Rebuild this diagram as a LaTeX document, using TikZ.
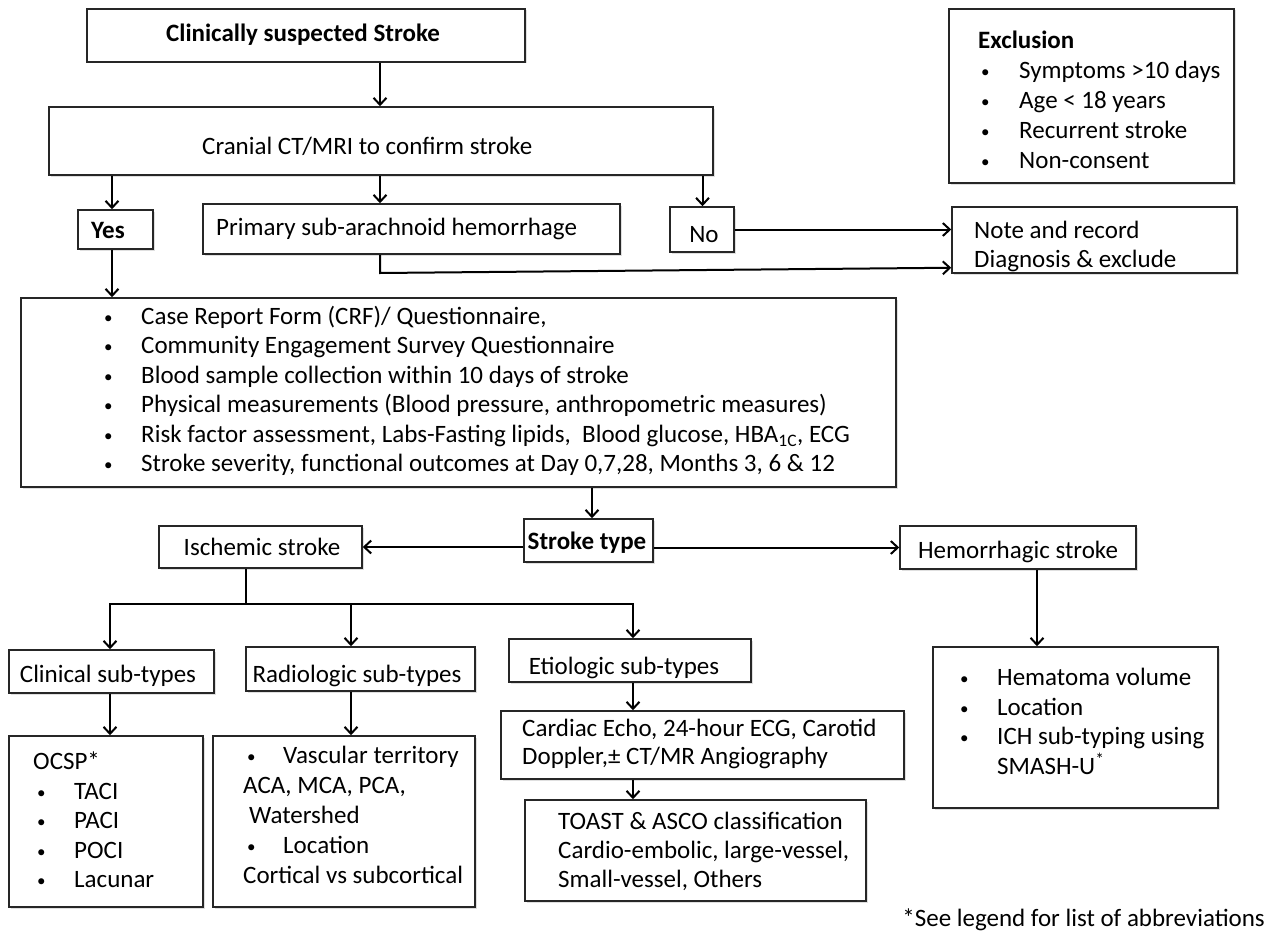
\documentclass[tikz,border=0pt]{standalone}
\usepackage{fontspec}
\setmainfont{Carlito}
\usetikzlibrary{arrows.meta,fit,shadows}
\newcommand\fs{\fontsize{25}{29.5}\selectfont}
\newcommand\bul[1][37pt]{\makebox[#1][l]{\raisebox{1pt}{\fontsize{17}{17}\selectfont\textbullet}}}
\begin{document}
\begin{tikzpicture}[x=1pt,y=-1pt,
  box/.style={draw=black!85, line width=1.5pt, fill=white, inner sep=0pt,
    drop shadow={shadow xshift=1.5pt,shadow yshift=-1.5pt,opacity=0.25}},
  txt/.style={inner sep=0pt, font=\fs, align=left},
  arr/.style={line width=2pt, -{Straight Barb[length=7pt,width=13pt]}},
  ln/.style={line width=2pt}]
\fill[white] (0,0) rectangle (1285,934);
\useasboundingbox (0,0) rectangle (1285,934);

% boxes
\node[box, fit={(87,9)(525,62)}] (clin) {};
\node[box, fit={(949,9)(1234,183)}] (excl) {};
\node[box, fit={(49,107)(713,175)}] (cran) {};
\node[box, fit={(78,210)(153,249)}] (yes) {};
\node[box, fit={(203,204)(620,254)}] (sah) {};
\node[box, fit={(670,207)(734,252)}] (no) {};
\node[box, fit={(952,207)(1237,273)}] (note) {};
\node[box, fit={(21,298)(896,487)}] (crf) {};
\node[box, fit={(524,519)(653,562)}] (st) {};
\node[box, fit={(159,526)(362,568)}] (isch) {};
\node[box, fit={(900,526)(1136,569)}] (hem) {};
\node[box, fit={(9,650)(214,693)}] (cs) {};
\node[box, fit={(246,647)(475,691)}] (rs) {};
\node[box, fit={(509,639)(751,682)}] (es) {};
\node[box, fit={(933,647)(1218,808)}] (hema) {};
\node[box, fit={(9,736)(203,907)}] (ocsp) {};
\node[box, fit={(213,736)(475,907)}] (rd) {};
\node[box, fit={(501,711)(904,779)}] (card) {};
\node[box, fit={(525,800)(866,901)}] (toast) {};

% texts
\node[txt, font=\fs\bfseries] (clint) at (303,35) {Clinically suspected Stroke};
\node[txt, anchor=north west, font=\fontsize{25}{30}\selectfont] (exclt) at (978,31)
  {\textbf{Exclusion}\\
   \hspace*{3pt}\bul[38pt]Symptoms >10 days\\
   \hspace*{3pt}\bul[38pt]Age < 18 years\\
   \hspace*{3pt}\bul[38pt]Recurrent stroke\\
   \hspace*{3pt}\bul[38pt]Non-consent};
\node[txt, anchor=west] (crant) at (202,146) {Cranial CT/MRI to confirm stroke};
\node[txt, anchor=west, font=\fs\bfseries] (yest) at (91,230) {Yes};
\node[txt, anchor=west] (saht) at (216,229) {Primary sub-arachnoid hemorrhage};
\node[txt] (not) at (704,235) {No};
\node[txt, anchor=north west, font=\fontsize{25}{29}\selectfont] (notet) at (974,221)
  {Note and record\\ Diagnosis \& exclude};
\node[txt, anchor=north west] (crft) at (104,306)
  {\bul Case Report Form (CRF)/ Questionnaire,\\
   \bul Community Engagement Survey Questionnaire\\
   \bul Blood sample collection within 10 days of stroke\\
   \bul Physical measurements (Blood pressure, anthropometric measures)\\
   \bul Risk factor assessment, Labs-Fasting lipids,\ \ Blood glucose, HBA\textsubscript{1C}, ECG\\
   \bul Stroke severity, functional outcomes at Day 0,7,28, Months 3, 6 \& 12};
\node[txt, font=\fs\bfseries] (stt) at (587,543) {Stroke type};
\node[txt] (ischt) at (262,547) {Ischemic stroke};
\node[txt] (hemt) at (1018,552) {Hemorrhagic stroke};
\node[txt] (cst) at (108,676) {Clinical sub-types};
\node[txt] (rst) at (357,676) {Radiologic sub-types};
\node[txt] (est) at (624,668) {Etiologic sub-types};
\node[txt, anchor=north west] (ocspt) at (33,752)
  {OCSP*\\
   \hspace*{4pt}\bul TACI\\
   \hspace*{4pt}\bul PACI\\
   \hspace*{4pt}\bul POCI\\
   \hspace*{4pt}\bul Lacunar};
\node[txt, anchor=north west, font=\fontsize{25}{30}\selectfont] (rdt) at (243,746)
  {\hspace*{4pt}\bul[36pt]Vascular territory\\
   ACA, MCA, PCA,\\
   \hspace*{6pt}Watershed\\
   \hspace*{4pt}\bul[36pt]Location\\
   Cortical vs subcortical};
\node[txt, anchor=north west, font=\fontsize{25}{28}\selectfont] (cardt) at (522,719)
  {Cardiac Echo, 24-hour ECG, Carotid\\ Doppler,± CT/MR Angiography};
\node[txt, anchor=north west, font=\fontsize{25}{29}\selectfont] (toastt) at (558,812)
  {TOAST \& ASCO classification\\ Cardio-embolic, large-vessel,\\ Small-vessel, Others};
\node[txt, anchor=north west, font=\fontsize{25}{29.7}\selectfont] (hemat) at (960,668)
  {\bul[37pt]Hematoma volume\\
   \bul[37pt]Location\\
   \bul[37pt]ICH sub-typing using\\
   \hspace*{37pt}SMASH-U\textsuperscript{*}};
\node[txt, anchor=east] (foot) at (1265,920) {*See legend for list of abbreviations};

% reference x positions
\coordinate (v380) at (380,0);
\coordinate (v112) at (112,0);
\coordinate (v702) at (702.5,0);
\coordinate (v592) at (592,0);
\coordinate (v246) at (246,0);
\coordinate (v110) at (110,0);
\coordinate (v351) at (351,0);
\coordinate (v633) at (633,0);
\coordinate (v1037) at (1037,0);
\coordinate (sahbend) at (380,273);
\coordinate (j) at (246,604);

% connectors
\draw[arr] (clin.south -| v380) -- (cran.north -| v380);
\draw[arr] (cran.south -| v112) -- (yes.north -| v112);
\draw[arr] (cran.south -| v380) -- (sah.north -| v380);
\draw[arr] (cran.south -| v702) -- (no.north -| v702);
\draw[arr] (no.east) -- (note.west |- no.east);
\draw[arr] (sah.south -| v380) -- (sahbend) -- ([yshift=6pt]note.south west);
\draw[arr] (yes.south -| v112) -- (crf.north -| v112);
\draw[arr] (crf.south -| v592) -- (st.north -| v592);
\draw[arr] (isch.east -| st.west) -- (isch.east);
\draw[arr] (hem.west -| st.east) -- (hem.west);
\draw[ln] (isch.south -| v246) -- (j);
\draw[arr] (j) -| (cs.north -| v110);
\draw[arr] (j) -| (rs.north -| v351);
\draw[arr] (j) -| (es.north -| v633);
\draw[arr] (cs.south -| v110) -- (ocsp.north -| v110);
\draw[arr] (rs.south -| v351) -- (rd.north -| v351);
\draw[arr] (es.south -| v633) -- (card.north -| v633);
\draw[arr] (card.south -| v633) -- (toast.north -| v633);
\draw[arr] (hem.south -| v1037) -- (hema.north -| v1037);
\end{tikzpicture}
\end{document}
